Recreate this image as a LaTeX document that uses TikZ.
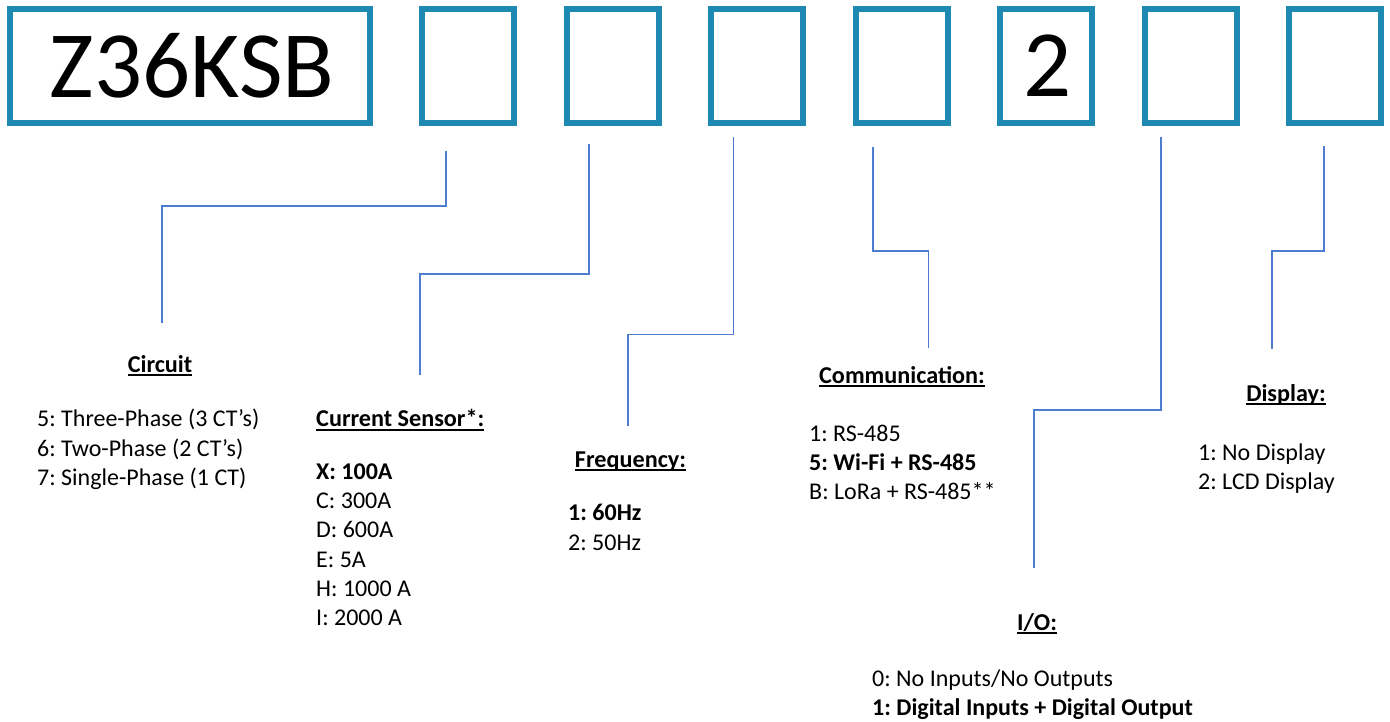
\documentclass[tikz,border=0pt]{standalone}
\usepackage{fontspec}
\setmainfont{Carlito}
\frenchspacing
\newcommand{\ulin}[1]{\leavevmode\setbox0\hbox{#1}\rlap{\rule[-3.8pt]{\wd0}{1.8pt}}\box0}
\definecolor{boxblue}{RGB}{30,138,178}
\definecolor{lineblue}{RGB}{78,124,206}
\tikzset{
  codebox/.style={draw=boxblue, line width=6pt, minimum height=114pt, inner sep=0pt,
    font=\fontsize{95}{95}\selectfont},
  smallbox/.style={codebox, minimum width=92pt},
  conn/.style={draw=lineblue, line width=1.8pt},
  head/.style={font=\fontsize{24.2}{30}\selectfont\bfseries\frenchspacing, inner sep=0pt, anchor=base},
  item/.style={font=\fontsize{24}{29}\selectfont\frenchspacing, inner sep=0pt, anchor=base west},
  itembold/.style={item, font=\fontsize{24}{29}\selectfont\bfseries\frenchspacing},
}
\begin{document}
\begin{tikzpicture}[x=1pt,y=-1pt]
\useasboundingbox (0,0) rectangle (1390,722);
% code boxes
\node[codebox, minimum width=360pt] (b0) at (190,66) {\hspace*{4pt}Z36KSB};
\node[smallbox] (b1) at (468,66) {};
\node[smallbox] (b2) at (612.5,66) {};
\node[smallbox] (b3) at (757,66) {};
\node[smallbox] (b4) at (901.5,66) {};
\node[smallbox] (b5) at (1046,66) {\hspace*{4pt}2};
\node[smallbox] (b6) at (1190.5,66) {};
\node[smallbox] (b7) at (1334.5,66) {};
% connectors
\coordinate (k1a) at (446,151);   \coordinate (k1b) at (162,323);
\coordinate (k2a) at (589,144);   \coordinate (k2b) at (420,375);
\coordinate (k3a) at (733.5,137); \coordinate (k3b) at (628,426);
\coordinate (k4a) at (873,147);   \coordinate (k4b) at (928.5,348);
\coordinate (k5a) at (1161,137);  \coordinate (k5b) at (1034,568);
\coordinate (k6a) at (1324,146);  \coordinate (k6b) at (1272,349);
\draw[conn] (k1a) -- ++(0,55) -| (k1b);
\draw[conn] (k2a) -- ++(0,130) -| (k2b);
\draw[conn] (k3a) -- ++(0,197.5) -| (k3b);
\draw[conn] (k4a) -- ++(0,104) -| (k4b);
\draw[conn] (k5a) -- ++(0,273) -| (k5b);
\draw[conn] (k6a) -- ++(0,105) -| (k6b);
% Circuit
\node[head] (hcirc) at (160,372) {\ulin{Circuit}};
\node[item] (c1) at (37,426.7) {5: Three-Phase (3 CT’s)};
\node[item] (c2) at (37,456) {6: Two-Phase (2 CT’s)};
\node[item] (c3) at (37,485.3) {7: Single-Phase (1 CT)};
% Current sensor
\node[head, anchor=base west] (hcur) at (316,426.7) {\ulin{Current Sensor*:}};
\node[itembold] (s1) at (316,479) {X: 100A};
\node[item] (s2) at (316,508.3) {C: 300A};
\node[item] (s3) at (316,537.7) {D: 600A};
\node[item] (s4) at (316,567) {E: 5A};
\node[item] (s5) at (316,596.3) {H: 1000 A};
\node[item] (s6) at (316,625.7) {I: 2000 A};
% Frequency
\node[head] (hfreq) at (630.5,467.3) {\ulin{Frequency:}};
\node[itembold] (f1) at (568,520.7) {1: 60Hz};
\node[item] (f2) at (568,550) {2: 50Hz};
% Communication
\node[head] (hcom) at (902,383.3) {\ulin{Communication:}};
\node[item] (m1) at (809,441) {1: RS-485};
\node[itembold] (m2) at (809,470) {5: Wi-Fi + RS-485};
\node[item] (m3) at (809,499) {B: LoRa + RS-485**};
% I/O
\node[head] (hio) at (1037,630) {\ulin{I/O:}};
\node[item] (o1) at (872,686) {0: No Inputs/No Outputs};
\node[itembold] (o2) at (872,715) {1: Digital Inputs + Digital Output};
% Display
\node[head] (hdisp) at (1286,401) {\ulin{Display:}};
\node[item] (d1) at (1198,460) {1: No Display};
\node[item] (d2) at (1198,489) {2: LCD Display};
\end{tikzpicture}
\end{document}
